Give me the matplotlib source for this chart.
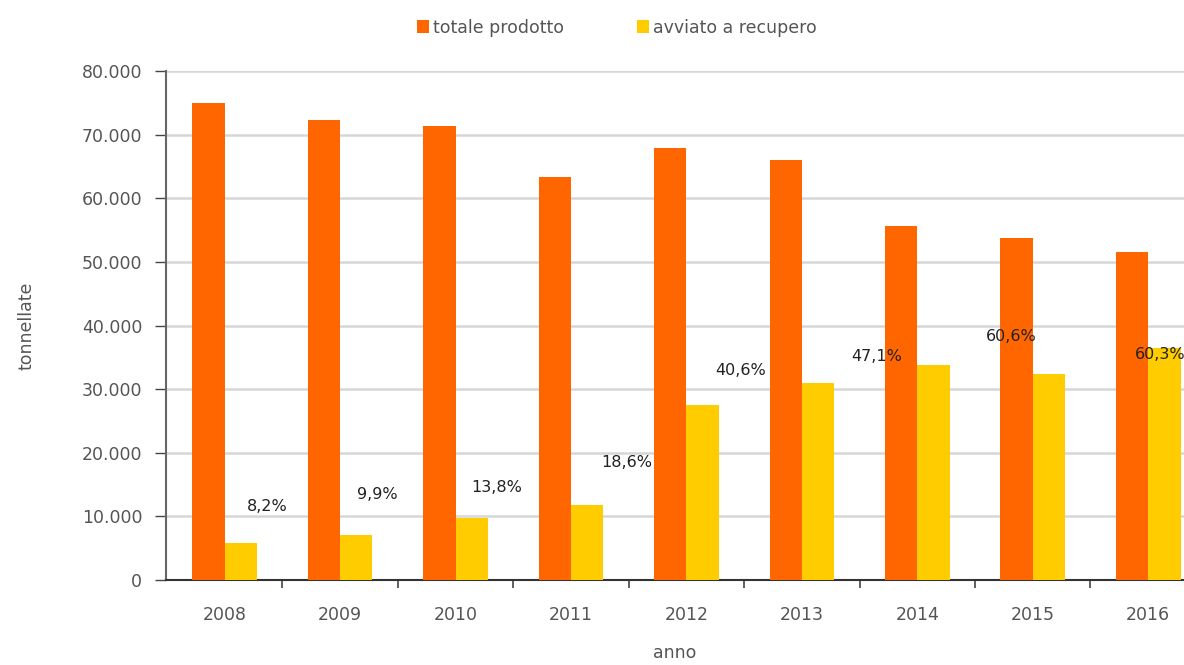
import numpy as np
import matplotlib
matplotlib.use("Agg")
import matplotlib.pyplot as plt
from matplotlib.ticker import FuncFormatter, FixedLocator

# data
anni = ["2008", "2009", "2010", "2011", "2012", "2013", "2014", "2015", "2016"]
totale_prodotto = [75000, 72300, 71400, 63400, 67900, 66000, 55700, 53800, 51600]
avviato_recupero = [5800, 7100, 9750, 11800, 27500, 31000, 33800, 32400, 36500]
perc_labels = ["8,2%", "9,9%", "13,8%", "18,6%", "40,6%", "47,1%", "60,6%", "60,3%"]
perc_x = [0.37, 1.32, 2.36, 3.48, 4.47, 5.65, 6.81, 8.10]
perc_y = [11500, 13400, 14600, 18400, 32900, 35100, 38200, 35400]

text_col = "#555555"
fig = plt.figure(figsize=(11.84, 6.65), dpi=100)
ax = fig.add_axes([0.140, 0.128, 0.860, 0.765])

x = np.arange(len(anni))
w = 0.28
ax.bar(x - w / 2, totale_prodotto, w, color="#FF6600", label="totale prodotto", zorder=3)
ax.bar(x + w / 2, avviato_recupero, w, color="#FFCC00", label="avviato a recupero", zorder=3)

for lx, ly, lab in zip(perc_x, perc_y, perc_labels):
    ax.text(lx, ly, lab, ha="center", va="center", fontsize=11.5, color="#222222", zorder=4)

ax.set_ylim(0, 80000)
ax.set_xlim(-0.51, 8.31)
ax.set_yticks(np.arange(0, 80001, 10000))
ax.yaxis.set_major_formatter(FuncFormatter(lambda v, p: f"{int(v):,}".replace(",", ".")))
ax.set_xticks(x)
ax.set_xticklabels(anni)
ax.tick_params(axis="x", length=0, pad=19, labelsize=12.5, labelcolor=text_col)
ax.xaxis.set_minor_locator(FixedLocator(x[:-1] + 0.5))
ax.tick_params(axis="x", which="minor", length=6, width=1.2, color="#444444", direction="out")
ax.tick_params(axis="y", length=8, width=1, color="#444444", pad=9, labelsize=12.5, labelcolor=text_col)

ax.grid(axis="y", color="#d6d6d6", linewidth=1.8, zorder=0)
ax.set_axisbelow(True)
for s in ["top", "right"]:
    ax.spines[s].set_visible(False)
ax.spines["left"].set_color("#666666")
ax.spines["left"].set_linewidth(1.5)
ax.spines["bottom"].set_color("#333333")
ax.spines["bottom"].set_linewidth(1.5)

ax.set_ylabel("tonnellate", fontsize=12.5, color=text_col, labelpad=33)
ax.set_xlabel("anno", fontsize=12.5, color=text_col, labelpad=14)

leg = fig.legend(loc="upper left", bbox_to_anchor=(0.352, 0.972), ncol=2, frameon=False,
                 fontsize=12.5, handlelength=0.72, handleheight=0.72, handletextpad=0.2,
                 columnspacing=4.2, borderpad=0, borderaxespad=0)
for t in leg.get_texts():
    t.set_color(text_col)

fig.savefig("out.png", dpi=100)
